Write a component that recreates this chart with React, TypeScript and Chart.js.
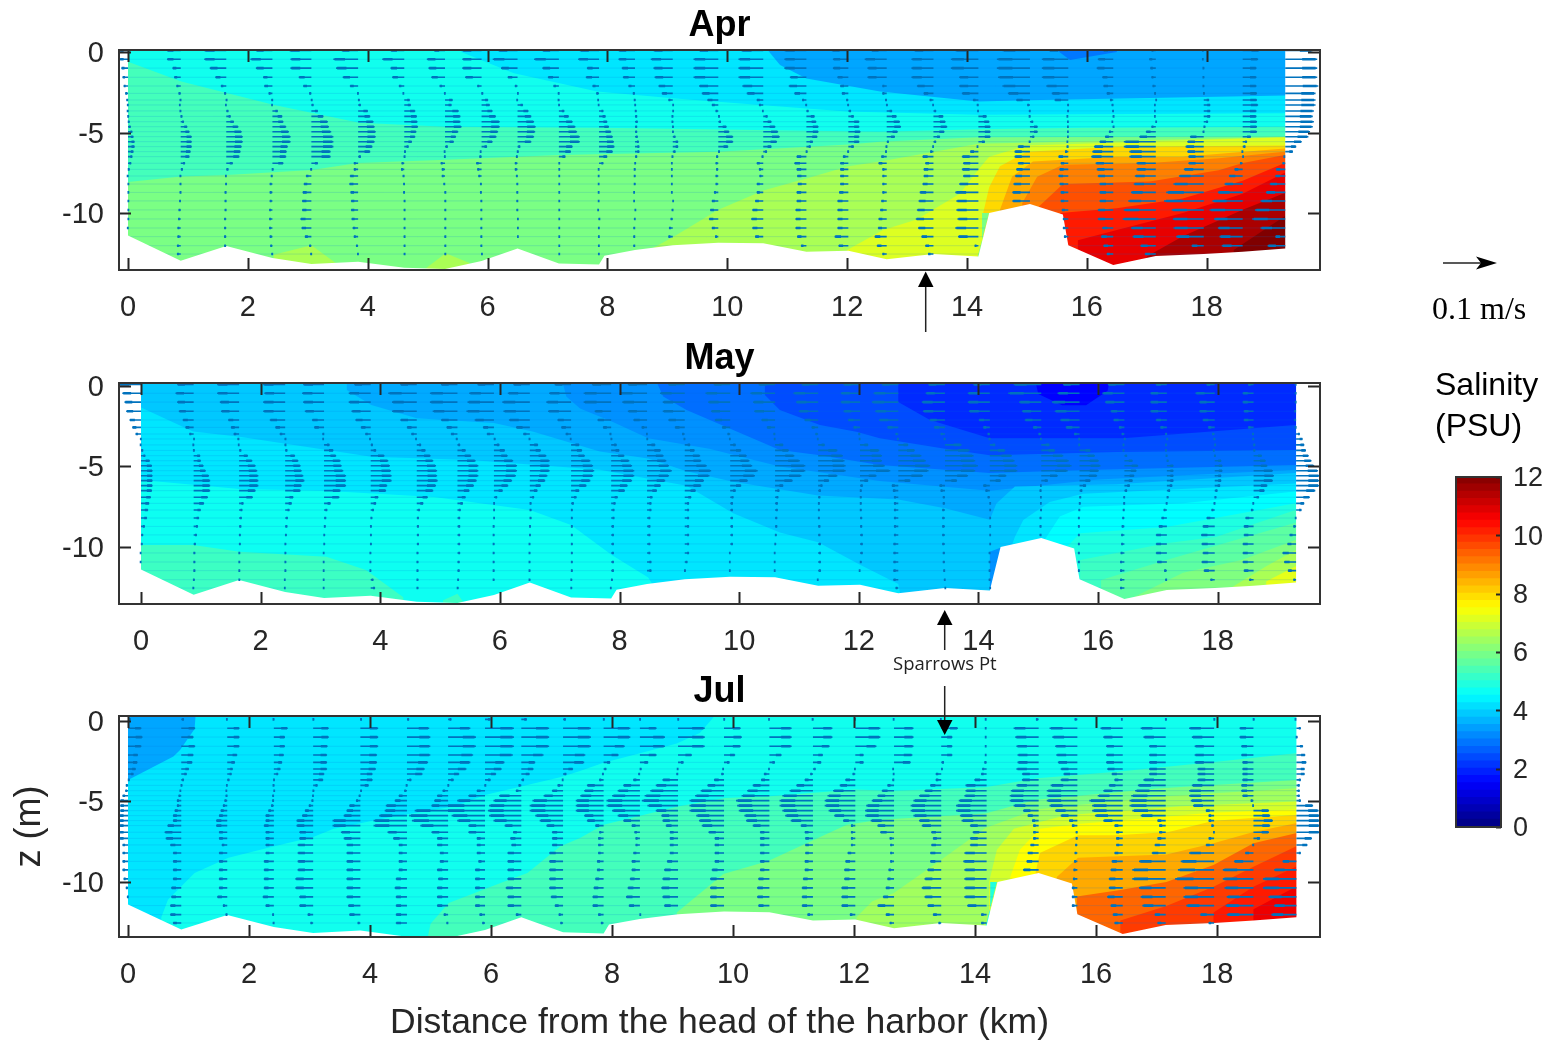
import React, { useEffect, useRef } from "react";
import { Chart, registerables } from "chart.js";

Chart.register(...registerables);

const FONT = "'Liberation Sans', Arial, sans-serif";
const INK = "#262626";
const ARROW = "#0072BD";
const ARROW_KM_PER_UNIT = 0.0092;

const stationKm = [0, 0.88, 1.64, 2.41, 3.06, 3.84, 4.61, 5.29, 5.9, 6.5, 7.19, 7.86, 8.46, 9.09, 9.85, 10.6, 11.32, 12.02, 12.66, 13.44, 14.19, 15.05, 15.69, 16.44, 17.15, 17.95, 18.6, 19.31];
const stationBottom = [-11.4, -12.96, -12.05, -12.8, -13.17, -13.02, -13.4, -13.48, -12.98, -12.2, -13.13, -13.2, -12.3, -12, -11.84, -11.88, -12.4, -12.34, -12.87, -12.55, -12.7, -9.44, -12, -13.23, -12.67, -12.55, -12.4, -12.2];
const depthLevels = [0.1, -0.45, -1, -1.57, -2.11, -2.57, -2.98, -3.29, -3.66, -4, -4.33, -4.64, -4.95, -5.26, -5.57, -5.88, -6.19, -6.5, -6.91, -7.29, -7.7, -8.2, -8.72, -9.25, -9.81, -10.37, -10.93, -11.47, -12.03, -12.55];

const bathymetryKm = [0, 0.88, 1.64, 2.41, 3.06, 3.84, 4.61, 5.29, 5.9, 6.5, 7.19, 7.86, 7.95, 8.46, 9.09, 9.85, 10.6, 11.32, 12.02, 12.66, 13.44, 14.19, 14.37, 15.05, 15.6, 15.69, 16.44, 17.15, 17.95, 18.6, 19.31];
const bathymetryZ = [-11.4, -12.96, -12.05, -12.8, -13.17, -13.02, -13.4, -13.48, -12.98, -12.2, -13.13, -13.2, -12.65, -12.3, -12, -11.84, -11.88, -12.4, -12.34, -12.87, -12.55, -12.7, -10, -9.44, -10.1, -12, -13.23, -12.67, -12.55, -12.4, -12.2];

const xTickValues = [0, 2, 4, 6, 8, 10, 12, 14, 16, 18];
const yTickValues = [0, -5, -10];
const colorbarTicks = [0, 2, 4, 6, 8, 10, 12];

// Along-channel velocity, mm/s, one row per station, one entry per depth level.
const aprU = [
  [-15,-15,-12,-10,-8,-5,-3,-2,1,2,3,5,8,10,12,12,10,8,6,3,1,-1,-1,-1,-1,-1,-2,-2],
  [-25,-25,-15,-12,-8,-4,-2,0,1,3,6,12,16,20,20,20,18,16,8,4,1,-2,-2,-3,-4,-5,-6,-6,-7,-7],
  [-40,-40,-30,-20,-10,-4,-1,1,4,8,14,22,28,30,30,28,26,24,12,4,1,-2,-3,-3,-3,-4,-4,-4,-4],
  [-30,-40,-30,-17,-15,-7,-2,1,10,18,20,25,30,33,33,28,26,25,20,2,-3,-5,-5,-5,-6,-6,-6,-5,-4,-2],
  [-40,-38,-38,-23,-15,-4,-1,4,12,22,30,32,36,40,40,40,35,35,12,-2,-10,-14,-16,-17,-17,-20,-18,-12,-4,-2],
  [-30,-45,-40,-28,-15,-2,3,5,18,22,28,30,32,32,30,26,22,5,-8,-8,-15,-16,-14,-13,-13,-12,-10,-8,-4,-2],
  [-25,-40,-25,-22,-10,0,10,12,20,23,24,25,22,20,14,8,3,-1,-5,-6,-3,-2,-2,-1,-1,-1,-1,-1,-1,-1],
  [-20,-33,-30,-25,-10,-2,14,12,25,28,28,30,24,20,16,5,1,-2,-8,-6,-6,-3,-1,-1,-1,-1,-1,-1,-1,-1],
  [-35,-35,-35,-30,-8,3,12,15,20,26,33,33,30,27,20,10,0,-4,-10,-8,-6,-3,-3,-2,-2,-2,-2,-2,-2,-1],
  [-35,-45,-30,-18,-5,-1,1,10,20,25,30,33,32,30,25,5,2,-3,-5,-5,-3,-2,-2,-2,-2,-1,-1,-1],
  [-30,-45,-30,-20,-10,-2,1,2,10,18,25,30,33,38,38,25,22,12,-1,-1,-1,-1,-1,-1,-1,-1,-1,-1,-1,-1],
  [-35,-38,-22,-24,-12,-5,0,1,8,12,15,18,22,25,27,28,25,15,8,1,1,1,1,1,0,-1,-2,-2,-2,-2],
  [-30,-30,-24,-22,-12,-4,1,2,3,4,5,4,4,5,7,8,8,4,2,1,1,1,0,0,-1,-2,-3,-3,-3],
  [-35,-40,-35,-33,-26,-20,-8,-1,-1,1,1,2,2,5,10,10,5,1,0,0,0,0,0,-1,-2,-4,-7,-8,-2],
  [-35,-45,-45,-45,-35,-30,-20,-12,-5,3,5,15,20,27,27,18,3,-4,-5,-4,-5,-5,-8,-12,-15,-17,-12,-6],
  [-40,-45,-45,-45,-38,-30,-12,-8,1,8,15,22,27,30,25,15,7,-3,-12,-8,-7,-12,-12,-15,-20,-22,-20,-15,-6],
  [-40,-40,-40,-30,-32,-22,-8,-2,4,15,18,22,22,20,12,8,2,-18,-22,-18,-17,-16,-18,-18,-20,-20,-20,-17,-10],
  [-30,-28,-28,-20,-15,-12,-4,-2,5,10,20,20,22,20,20,10,-2,-10,-15,-15,-15,-15,-17,-20,-20,-20,-20,-25,-18],
  [-28,-40,-35,-35,-8,-8,-3,2,10,18,24,26,20,15,4,-2,-3,-10,-15,-8,-8,-8,-8,-10,-12,-15,-16,-22,-18,-8],
  [-35,-40,-40,-40,-30,-18,-7,1,5,18,22,25,20,12,5,1,-6,-20,-15,-18,-18,-20,-25,-27,-30,-32,-28,-22,-15,-10],
  [-42,-50,-50,-35,-35,-30,-10,-3,1,15,20,22,22,22,12,0,-15,-30,-28,-30,-28,-35,-42,-40,-40,-38,-42,-37,-7],
  [-50,-60,-60,-58,-50,-40,-25,-5,-2,1,6,14,14,8,1,-22,-28,-28,-22,-25,-27,-30,-32,-32],
  [-35,-48,-48,-48,-40,-30,-25,-2,-2,0,1,1,1,1,0,-3,-6,-18,-14,-16,-18,-16,-14,-14,-12,-10,-10,-8],
  [-18,-28,-30,-20,-18,-12,-6,-3,-2,-1,0,-1,-8,-15,-25,-35,-38,-40,-32,-30,-28,-25,-25,-25,-28,-28,-20,-22,-18,-12],
  [-8,-12,-10,-8,-6,-3,-1,0,0,0,-1,-8,-18,-30,-58,-58,-48,-48,-35,-35,-38,-40,-45,-50,-58,-60,-45,-42,-28,-20],
  [0,0,1,1,1,2,10,12,12,12,8,3,-2,-25,-30,-33,-30,-28,-28,-36,-45,-55,-68,-72,-58,-56,-55,-50,-22],
  [30,28,25,25,25,26,26,28,25,25,26,26,26,15,8,5,1,-1,-5,-15,-25,-33,-45,-55,-60,-52,-45,-42,-38,-15],
  [50,58,58,58,60,55,55,55,52,50,52,50,45,42,30,20,14,0,-5,-17,-18,-28,-35,-45,-55,-60,-45,-18,-32,-5],
];

const mayU = [
  [-40,-34,-30,-27,-21,-16,-10,-2,1,4,8,16,20,21,21,21,21,20,18,15,13,11,7,4,3,1,1,1],
  [-30,-33,-30,-27,-20,-15,-8,-1,1,2,12,13,18,22,28,30,30,30,26,19,13,10,8,6,4,3,3,3,2,1],
  [-40,-40,-35,-33,-20,-15,-10,-3,1,4,16,24,30,33,35,35,35,30,25,8,6,5,4,3,3,2,2,2,2,1],
  [-40,-38,-40,-40,-28,-18,-10,-1,-1,4,18,24,28,30,33,35,30,28,15,12,8,5,4,3,2,2,2,2,1,1],
  [-38,-40,-38,-35,-22,-18,-3,0,10,17,22,30,32,35,40,40,40,30,28,12,6,4,3,2,2,1,1,1,1,1],
  [-30,-40,-40,-35,-28,-18,-10,-3,4,10,25,32,35,37,38,38,30,28,14,10,6,3,2,2,2,1,1,1,5,8],
  [-30,-52,-45,-45,-30,-18,-10,-3,8,16,25,30,35,37,37,38,35,30,20,12,6,4,4,4,4,3,3,3,3,3],
  [-30,-50,-50,-45,-30,-20,-12,-3,5,15,25,33,38,38,38,35,30,22,15,10,6,5,5,5,5,5,4,4,3,2],
  [-30,-45,-48,-50,-35,-20,-13,3,10,20,25,35,42,42,40,33,26,16,6,2,2,2,1,1,1,1,1,1,1],
  [-30,-40,-50,-48,-38,-25,-12,1,15,20,30,36,36,36,32,28,20,14,8,3,3,3,2,2,1,1,1,1,1],
  [-30,-40,-45,-42,-25,-18,-10,1,15,20,25,35,40,42,40,35,28,15,10,5,3,3,3,3,3,3,3,3,2,2],
  [-35,-50,-50,-30,-25,-15,-3,2,10,15,24,33,38,42,42,38,30,25,12,8,6,6,5,5,5,5,5,5,3,1],
  [-35,-50,-45,-35,-25,-10,-2,2,15,25,30,35,40,45,40,33,25,18,10,8,8,6,6,6,6,6,8,8],
  [-30,-45,-40,-40,-30,-18,-5,1,10,18,28,30,40,48,45,35,30,20,12,8,8,8,8,8,8,8,5,2],
  [-30,-45,-40,-35,-28,-15,-5,1,10,20,30,35,40,50,45,32,20,10,6,5,5,5,5,5,5,1,1,1],
  [-30,-45,-40,-38,-25,-15,-3,1,15,25,35,45,55,55,48,32,15,8,6,5,5,4,4,3,2,1,1,1],
  [-30,-45,-40,-35,-25,-12,-5,1,12,35,45,48,50,50,35,20,8,5,4,3,3,3,4,4,5,5,5,5,1],
  [-30,-35,-35,-30,-22,-12,-3,1,15,35,40,40,45,55,30,15,5,3,3,3,3,4,4,5,5,5,3,1],
  [-30,-45,-48,-42,-35,-20,-5,1,18,30,42,50,58,55,45,22,-12,-10,-8,-8,-8,-8,-8,-8,-9,-9,-9,-9,-9,-5],
  [-30,-35,-42,-40,-28,-20,-8,1,30,45,52,55,60,55,42,22,-10,-8,-4,-4,-5,-5,-5,-5,-5,-4,-4,-3,-2,-1],
  [-30,-40,-40,-38,-20,-12,-4,1,10,28,40,45,50,50,30,20,-12,-8,-4,-1,-1,-1,-1,-1,-1,-2,-2,-2,-2,-1],
  [-50,-60,-40,-35,-30,-15,-5,1,15,25,40,50,55,48,30,12,1,-3,1,1,-2,-3,-3,-3],
  [-30,-40,-50,-45,-35,-25,-10,1,1,20,28,35,38,35,32,20,12,5,3,2,-2,-3,-3,-3,-3,-3,-3,-3],
  [-30,-40,-35,-25,-20,-10,-5,-1,0,0,5,15,25,22,18,15,10,5,-2,-2,-3,-4,-5,-6,-6,-7,-8,-8,-8,-8],
  [-20,-30,-30,-30,-20,-12,-3,-1,0,0,1,3,12,12,12,12,10,6,3,-2,-6,-10,-15,-20,-20,-20,-18,-5,-3],
  [-15,-35,-28,-28,-22,-12,-5,1,-1,0,2,12,14,14,12,12,10,5,3,-2,-6,-15,-22,-25,-24,-22,-24,-20,-8],
  [-10,-20,-20,-18,-18,-10,-3,1,3,3,15,22,25,35,37,35,25,20,10,1,-5,-15,-18,-18,-20,-20,-20,-18,-8],
  [1,1,1,0,0,1,7,12,15,18,23,28,33,40,43,42,42,35,25,15,10,1,-5,-12,-16,-25,-22,-15,-5],
];

const julU = [
  [5,24,26,24,18,17,14,10,3,-4,-5,-10,-14,-14,-14,-15,-15,-15,-15,-15,-10,-10,-10,-10,-8,-4,-2,-1],
  [5,25,22,25,22,20,14,10,5,2,0,-5,-8,-8,-12,-15,-15,-25,-30,-28,-20,-15,-15,-15,-15,-18,-18,-20,-20,-15],
  [1,22,22,22,18,14,10,8,4,1,0,-3,-5,-8,-12,-15,-20,-20,-15,-15,-10,-15,-15,-15,-15,-15,-18,-8,-3],
  [1,25,20,20,18,15,12,8,2,1,-1,-3,-3,-5,-10,-15,-15,-18,-15,-15,-15,-15,-18,-18,-18,-18,-20,-15,-3,-2],
  [2,28,28,26,25,25,25,20,18,8,2,-2,-3,-8,-15,-20,-30,-30,-25,-25,-28,-28,-28,-28,-32,-32,-25,-25,-10,-5],
  [3,32,32,32,30,30,28,22,22,15,3,-3,-8,-20,-25,-30,-50,-50,-35,-30,-25,-25,-25,-25,-25,-25,-25,-22,-20,-5],
  [4,40,42,42,42,38,32,28,8,1,-5,-15,-22,-38,-40,-50,-60,-60,-35,-25,-15,-15,-15,-15,-20,-22,-20,-20,-20,-20],
  [6,40,50,50,45,40,33,20,10,2,-10,-20,-25,-30,-60,-70,-65,-50,-30,-20,-20,-15,-15,-20,-18,-20,-20,-20,-8,-3],
  [10,52,52,52,50,35,30,20,10,-1,-15,-30,-50,-70,-70,-60,-50,-30,-30,-15,-15,-15,-12,-18,-18,-18,-18,-18,-10,-5],
  [10,50,50,50,40,25,22,15,5,-5,-10,-40,-50,-58,-60,-58,-50,-30,-15,-20,-18,-25,-25,-25,-25,-28,-25,-25,-10,-5],
  [5,50,50,50,40,38,18,6,1,-10,-20,-35,-55,-60,-60,-50,-42,-30,-20,-20,-20,-25,-25,-25,-25,-25,-22,-15,-8,-5],
  [2,48,48,38,27,12,5,-3,-8,-30,-35,-42,-50,-50,-50,-35,-30,-15,-8,-10,-10,-10,-12,-12,-15,-18,-20,-20,-10,-5],
  [2,30,45,45,30,15,3,-3,-12,-30,-40,-50,-60,-60,-50,-40,-30,-15,-10,-8,-8,-12,-15,-15,-18,-22,-25,-20,-1,-1],
  [2,48,48,48,25,10,1,-3,-28,-40,-50,-60,-65,-55,-40,-30,-28,-22,-15,-15,-15,-15,-20,-25,-28,-30,-28,-25,-5,-5],
  [2,30,32,30,20,10,0,-5,-18,-30,-42,-52,-62,-62,-62,-50,-45,-40,-28,-17,-17,-17,-17,-22,-25,-25,-25,-25,-5,-5],
  [1,40,40,40,22,10,1,-10,-15,-30,-40,-50,-60,-58,-55,-45,-42,-30,-17,-17,-17,-17,-17,-17,-20,-22,-22,-20,-12,-10],
  [1,35,35,30,18,15,5,-5,-15,-30,-42,-55,-60,-60,-55,-50,-40,-22,-15,-14,-14,-14,-15,-15,-18,-20,-20,-20,-10,-5],
  [1,45,45,38,15,15,1,-5,-18,-28,-40,-50,-55,-55,-48,-38,-22,-8,-8,-8,-8,-14,-18,-20,-20,-25,-25,-25,-10],
  [1,35,35,35,33,30,0,1,-3,-12,-22,-30,-40,-50,-52,-52,-42,-30,-25,-8,-7,-7,-7,-10,-12,-15,-20,-30,-15,-8],
  [1,30,20,20,20,5,3,-10,-10,-20,-30,-40,-50,-55,-55,-50,-40,-35,-18,-15,-18,-20,-20,-25,-30,-35,-30,-25,-15,-5],
  [0,0,0,0,0,-4,-8,-10,-22,-38,-38,-40,-50,-55,-55,-48,-45,-30,-25,-30,-30,-40,-42,-40,-40,-40,-40,-35,-10,-10],
  [-5,-45,-42,-40,-38,-38,-40,-30,-30,-40,-50,-52,-52,-45,-28,-20,-12,-10,-10,-10,-15,-20,-22,-28,-28],
  [-5,-50,-45,-40,-38,-35,-30,-25,-30,-48,-55,-55,-55,-50,-40,-30,-15,-10,-3,-3,-4,-5,-6,-7,-8,-10,-10,-10],
  [0,-40,-35,-30,-30,-30,-28,-20,-15,-25,-35,-45,-60,-55,-55,-50,-35,-15,-12,-12,-12,-15,-20,-22,-25,-25,-28,-22,-18,-15],
  [2,-45,-40,-30,-30,-30,-30,-30,-40,-50,-55,-62,-65,-65,-60,-45,-15,-12,-12,-15,-20,-25,-48,-60,-60,-48,-45,-42,-20,-15],
  [2,-45,-40,-35,-35,-35,-30,-30,-30,-40,-45,-45,-42,-38,-15,-10,-10,-5,-2,-10,-15,-45,-60,-65,-70,-55,-55,-50,-25,-10],
  [2,-25,-25,-22,-22,-20,-20,-20,-20,-22,-22,-20,-5,1,28,30,35,30,28,12,-2,-15,-35,-55,-55,-52,-48,-50,-48,-20],
  [0,8,2,12,16,18,15,15,8,6,6,6,8,30,40,42,42,42,42,28,20,8,-25,-40,-60,-60,-50,-40,-45,-10],
];

// Salinity contour bands, painted in order; each outline is closed downward.
const aprSalinity = [2.9, 3.45, 4.2, 4.7, 5.3, 5.95, 6.5, 6.5, 6.5, 7.1, 7.95, 8.5, 9, 9.56, 10.2, 10.77, 11.5, 12, 5.95];
const aprOutlines = [
  [[-1,.5],[21,.5]],
  [[-1,.5],[15.54,.5],[15.54,0],[15.72,-.5],[16.5,0],[16.5,.5],[21,.5]],
  [[-1,.5],[10.68,.5],[10.68,.1],[10.88,-.8],[11.32,-1.64],[12.55,-2.46],[14.19,-3.08],[15,-3],[19.3,-2.7],[21,-2.6]],
  [[-1,.5],[5.56,.5],[5.56,0],[6.44,-1.32],[7.83,-2.46],[9.09,-2.88],[10.6,-3.3],[12,-3.7],[14.19,-3.9],[19.3,-3.8],[21,-3.8]],
  [[-1,.5],[0,-.6],[.89,-1.84],[2.44,-3.29],[3.86,-4.39],[5.3,-4.64],[7.88,-4.7],[12.55,-4.95],[14.19,-4.8],[16,-4.7],[19.3,-4.64],[21,-4.6]],
  [[-1,-8.3],[0,-8.08],[.89,-7.74],[1.65,-7.64],[3.06,-7.33],[3.84,-6.9],[5.3,-6.7],[7.19,-6.4],[9.85,-6.2],[12.02,-5.75],[12.55,-5.57],[14.19,-5.3],[19.3,-5.25],[21,-5.2]],
  [[2.43,-12.6],[3.06,-12],[3.5,-13.2]],
  [[4.95,-13.5],[5.3,-12.5],[5.7,-13.1]],
  [[8.6,-12.5],[9.09,-11.5],[9.85,-9.8],[10.6,-8.6],[11.32,-7.85],[12.02,-7.1],[12.55,-6.8],[14.19,-5.7],[19.3,-5.28],[21,-5.2]],
  [[12,-12.3],[12.6,-11.05],[13.16,-10.4],[13.88,-8.8],[14.19,-7.3],[14.37,-6.5],[15,-5.8],[19.3,-5.3],[21,-5.3]],
  [[14.27,-10],[14.37,-8.4],[14.55,-7.1],[15,-6.2],[16.5,-5.88],[19.3,-5.8],[21,-5.8]],
  [[14.55,-9.8],[14.75,-7.75],[15.1,-6.8],[16.5,-6.5],[17.6,-6.5],[19.3,-6],[21,-5.9]],
  [[14.92,-9.4],[15.17,-7.75],[15.6,-7],[17.05,-6.9],[18.2,-6.6],[19.3,-6.2],[21,-6]],
  [[15.2,-9.6],[15.6,-8.2],[17.05,-8.05],[18.2,-7.35],[18.6,-6.9],[19.3,-6.4],[21,-6.2]],
  [[15.55,-10],[16.5,-9.7],[17.6,-9.1],[18.6,-8],[19.3,-6.9],[21,-6.5]],
  [[15.85,-11.7],[16.5,-11.05],[17.6,-10],[18.6,-8.8],[19.3,-7.5],[21,-7]],
  [[17,-12.7],[17.6,-11.45],[18.6,-9.8],[19.3,-8.75],[21,-8]],
  [[18.45,-12.3],[19.3,-10.2],[21,-9]],
  [[14.17,-12.8],[14.37,-10],[14.25,-10]],
];

const maySalinity = [1.5, 2, 2.4, 2.8, 3.2, 3.5, 3.85, 4.2, 4.65, 5.2, 5.2, 3.2, 4.2, 4.5, 4.85, 5.2, 5.6, 6, 6.5, 7.2];
const mayOutlines = [
  [[-1,.5],[21,.5]],
  [[-1,.5],[14.94,.5],[15,-.5],[15.4,-1.2],[15.8,-1.2],[16.16,-.3],[16.2,.5],[21,.5]],
  [[-1,.5],[12.66,.5],[12.66,-1],[13.19,-2.11],[14.19,-3.25],[16.41,-3.25],[19.3,-2.42],[21,-2.2]],
  [[-1,.5],[10.43,.5],[10.43,-.56],[10.68,-1.49],[11.35,-2.42],[11.96,-2.84],[12.35,-3.25],[13.44,-3.9],[14.19,-4.3],[16.3,-4.1],[19.3,-3.98],[21,-3.9]],
  [[-1,.5],[8.59,.5],[8.73,-.66],[9.12,-1.49],[9.9,-2.73],[10.68,-3.97],[11.32,-4.28],[12.35,-4.9],[14.19,-5.4],[16,-5.2],[19.3,-4.9],[21,-4.8]],
  [[-1,.5],[7.03,.5],[7.11,-.66],[7.34,-1.4],[7.87,-2.2],[8.48,-3.25],[9.5,-3.9],[10.68,-5],[12.35,-5.9],[14.19,-6.5],[16,-5.8],[19.3,-5.2],[21,-5]],
  [[-1,.5],[3.44,.5],[3.44,-.25],[3.85,-1.18],[4.61,-2],[5.9,-2.3],[6.56,-2.84],[7.67,-4.07],[8.48,-4.5],[9.12,-5.3],[9.9,-5.95],[11.32,-6.8],[12.66,-7.05],[13.44,-7.6],[14.19,-8.3],[14.3,-7.3],[14.61,-6.25],[16.31,-6.1],[19.3,-5.4],[21,-5.2]],
  [[-1,-1.2],[0,-1.33],[.87,-2.83],[1.65,-3.15],[3.85,-4.4],[5.5,-4.6],[7.67,-5.2],[9.12,-6.2],[9.9,-7.9],[10.68,-9.1],[11.32,-9.7],[12.02,-11.1],[12.66,-12.3],[12.8,-15]],
  [[-1,-5.8],[0,-5.84],[1.65,-6.4],[3.07,-6.5],[4.9,-6.9],[6.5,-7.7],[7.19,-8.63],[7.87,-10.5],[8.48,-11.9],[9,-15]],
  [[-1,-9.87],[.87,-9.87],[1.65,-10.3],[3.1,-10.6],[3.76,-11.43],[4.38,-13.1],[4.5,-15]],
  [[5.05,-13.3],[5.29,-12.9],[5.5,-14]],
  [[14.19,-10.3],[14.4,-10],[14.2,-12.7]],
  [[14.55,-10],[14.61,-9.36],[14.75,-8.32],[15.19,-7.2],[15.75,-6.7],[19.3,-6.05],[21,-5.9]],
  [[15.1,-9.6],[15.36,-8.1],[15.75,-7.5],[17.42,-7.29],[19.3,-6.56],[21,-6.2]],
  [[15.5,-9.9],[15.7,-9.15],[17.14,-8.75],[19.3,-7.29],[21,-6.5]],
  [[15.7,-10.8],[17.14,-9.77],[17.98,-9.36],[19.3,-7.7],[21,-6.8]],
  [[16.05,-12.05],[17.14,-10.8],[19.3,-8.5],[21,-7.5]],
  [[16.6,-13.1],[17.42,-11.6],[18.4,-10.8],[19.3,-9.57],[21,-8]],
  [[18.25,-12.47],[18.81,-11.2],[19.3,-10.2],[21,-9]],
  [[18.81,-12.15],[19.3,-11.2],[21,-10]],
];

const julSalinity = [3.45, 4.2, 4.7, 5.3, 5.95, 6.4, 7, 7.5, 8, 8.5, 9.3, 9.8, 10.2, 10.7, 4.9];
const julOutlines = [
  [[-1,.5],[21,.5]],
  [[-1,-4],[0,-3.66],[.75,-2.2],[.86,-1.8],[1.1,-.5],[1.12,.5],[21,.5]],
  [[.55,-13],[.55,-12.2],[.66,-11.1],[1.1,-9.45],[1.66,-8.5],[2.4,-7.8],[3.06,-7.2],[3.4,-6.7],[4.3,-6],[5.4,-5.3],[5.9,-4.6],[7.14,-3.5],[7.47,-3.1],[7.86,-2.6],[8.46,-2],[9.07,-1.4],[9.45,-.75],[9.67,.2],[9.7,.5],[21,.5]],
  [[4.95,-13.5],[5,-12.6],[5.3,-11.3],[6.2,-10],[6.6,-9.45],[7.14,-7.8],[7.47,-7.27],[7.86,-6.44],[9.1,-5.3],[9.87,-4.78],[10.61,-4.68],[12.01,-4.26],[12.65,-4.33],[14.17,-4.12],[15.02,-3.56],[16.34,-3.15],[17.99,-2.53],[19.3,-2],[21,-1.7]],
  [[9.07,-11.9],[9.84,-9.5],[10.58,-8.7],[11.33,-7.4],[11.88,-6.44],[12.43,-6.13],[14.17,-5.75],[15,-4.9],[17,-4.2],[19.3,-3.66],[21,-3.2]],
  [[12.04,-12.2],[12.3,-11.2],[12.65,-10.7],[13.3,-9],[14.17,-6.65],[15,-5.5],[17,-4.7],[19.3,-4.18],[21,-3.8]],
  [[14.23,-10],[14.36,-8],[14.64,-6.7],[15.5,-5.85],[17.4,-5.3],[19.3,-5],[21,-4.8]],
  [[14.58,-9.7],[14.74,-8],[15.07,-6.7],[15.7,-6.4],[17.9,-5.7],[19.3,-5.5],[21,-5.3]],
  [[15,-9.4],[15.07,-8.2],[15.7,-7.1],[16.34,-7.1],[17.2,-6.9],[17.94,-6.2],[19.3,-5.84],[21,-5.6]],
  [[15.35,-9.7],[15.7,-8.5],[17.16,-8.3],[17.94,-7.6],[18.6,-6.9],[19.3,-6.36],[21,-6]],
  [[15.68,-10.9],[16.4,-10.5],[17.16,-10],[17.94,-8.95],[18.6,-7.6],[19.3,-6.98],[21,-6.4]],
  [[16.4,-12.4],[17.16,-11.5],[17.94,-10.3],[18.6,-9.05],[19.3,-7.8],[21,-7]],
  [[17.94,-11.9],[18.6,-10.3],[19.3,-9.05],[21,-8]],
  [[18.6,-11.7],[19.3,-10.3],[21,-9]],
  [[14.17,-12.8],[14.36,-10],[14.25,-10]],
];

const panels = [
  { title: "Apr", top: 0, height: 335, axisH: 65, xMin: -0.15, xMax: 19.89, yMin: -13.54, yMax: 0.124, salinity: aprSalinity, outlines: aprOutlines, u: aprU, last: false },
  { title: "May", top: 333, height: 336, axisH: 65, xMin: -0.368, xMax: 19.71, yMin: -13.54, yMax: 0.186, salinity: maySalinity, outlines: mayOutlines, u: mayU, last: false },
  { title: "Jul", top: 666, height: 380, axisH: 109, xMin: -0.149, xMax: 19.7, yMin: -13.42, yMax: 0.31, salinity: julSalinity, outlines: julOutlines, u: julU, last: true },
];

function jet(s: number) {
  const t = s / 12;
  const c = (v: number) => Math.round(255 * Math.max(0, Math.min(1, v)));
  const r = c(Math.min(4 * t - 1.5, -4 * t + 4.5));
  const g = c(Math.min(4 * t - 0.5, -4 * t + 3.5));
  const b = c(Math.min(4 * t + 0.5, -4 * t + 2.5));
  return `rgb(${r},${g},${b})`;
}

const framePlugin = {
  id: "frame",
  afterDraw(chart: any, _args: any, opts: any) {
    const { ctx, chartArea: a, scales } = chart;
    ctx.save();
    ctx.strokeStyle = INK;
    ctx.lineWidth = opts.tickWidth;
    ctx.beginPath();
    const len = opts.len;
    if (scales.x && opts.xTicks) {
      for (const t of scales.x.ticks) {
        const p = Math.round(scales.x.getPixelForValue(t.value)) + 0.5;
        ctx.moveTo(p, a.bottom);
        ctx.lineTo(p, a.bottom - len);
        ctx.moveTo(p, a.top);
        ctx.lineTo(p, a.top + len);
      }
    }
    for (const t of scales.y.ticks) {
      const p = Math.round(scales.y.getPixelForValue(t.value)) + 0.5;
      if (opts.leftTicks) {
        ctx.moveTo(a.left, p);
        ctx.lineTo(a.left + len, p);
      }
      ctx.moveTo(a.right, p);
      ctx.lineTo(a.right - len, p);
    }
    ctx.stroke();
    ctx.lineWidth = 2;
    ctx.strokeStyle = "#333333";
    ctx.strokeRect(a.left, a.top, a.right - a.left, a.bottom - a.top);
    ctx.restore();
  },
};

function closeOutline(pts: number[][]) {
  const first = pts[0];
  const last = pts[pts.length - 1];
  const all = [...pts, [last[0], -15], [first[0], -15], first];
  return all.map(([x, y]) => ({ x, y }));
}

function bottomMask() {
  const pts: { x: number; y: number }[] = [
    { x: -2, y: 2 },
    { x: bathymetryKm[0], y: 2 },
  ];
  bathymetryKm.forEach((x, i) => pts.push({ x, y: bathymetryZ[i] }));
  const end = bathymetryKm[bathymetryKm.length - 1];
  pts.push({ x: end, y: 2 }, { x: 22, y: 2 }, { x: 22, y: -16 }, { x: -2, y: -16 }, { x: -2, y: 2 });
  return pts;
}

function gridLines() {
  const pts: any[] = [];
  for (const z of depthLevels.slice(1)) {
    pts.push({ x: 0, y: z }, { x: 19.31, y: z }, { x: null, y: null });
  }
  return pts;
}

function arrowLines(u: number[][]) {
  const shafts: any[] = [];
  const heads: any[] = [];
  u.forEach((row, i) => {
    const x0 = stationKm[i];
    row.forEach((v, k) => {
      const z = depthLevels[k];
      if (z < stationBottom[i]) return;
      const tip = x0 + v * ARROW_KM_PER_UNIT;
      shafts.push({ x: x0, y: z }, { x: tip, y: z }, { x: null, y: null });
      const dir = v < 0 ? -1 : 1;
      const headLen = Math.max(Math.abs(v) * ARROW_KM_PER_UNIT * 0.42, 0.03);
      const headEnd = tip - dir * Math.abs(v) * ARROW_KM_PER_UNIT * 0.05;
      heads.push({ x: headEnd, y: z }, { x: headEnd - dir * headLen, y: z }, { x: null, y: null });
    });
  });
  return { shafts, heads };
}

function buildPanel(canvas: HTMLCanvasElement, p: any) {
  const datasets: any[] = [];
  const { shafts, heads } = arrowLines(p.u);
  const line = { showLine: true, pointRadius: 0, pointHoverRadius: 0, spanGaps: false, tension: 0 };
  datasets.push({ ...line, label: "Velocity heads", data: heads, borderColor: ARROW, borderWidth: 2.6, fill: false, order: 0 });
  datasets.push({ ...line, label: "Velocity", data: shafts, borderColor: ARROW, borderWidth: 1.6, fill: false, order: 1 });
  datasets.push({ ...line, label: "Bottom", data: bottomMask(), borderWidth: 0, borderColor: "rgba(0,0,0,0)", backgroundColor: "#ffffff", fill: "shape", order: 2 });
  datasets.push({ ...line, label: "Levels", data: gridLines(), borderColor: "rgba(0,110,220,0.17)", borderWidth: 1, fill: false, order: 3 });
  p.outlines.forEach((o: number[][], i: number) => {
    datasets.push({
      ...line,
      label: `Salinity ${p.salinity[i]}`,
      data: closeOutline(o),
      borderWidth: 0,
      borderColor: "rgba(0,0,0,0)",
      backgroundColor: jet(p.salinity[i]),
      fill: "shape",
      order: 100 - i,
    });
  });
  return new Chart(canvas, {
    type: "scatter",
    data: { datasets },
    plugins: [framePlugin],
    options: {
      animation: false,
      responsive: false,
      events: [],
      layout: { padding: { left: 0, right: 224, top: 0, bottom: 0 } },
      plugins: {
        legend: { display: false },
        tooltip: { enabled: false },
        title: {
          display: true,
          text: p.title,
          fullSize: false,
          color: "#000000",
          font: { family: FONT, size: 36, weight: "bold" },
          padding: { top: 4.4, bottom: 2.4 },
        },
        frame: { len: 12, tickWidth: 2, xTicks: true, leftTicks: true },
      },
      scales: {
        x: {
          type: "linear",
          min: p.xMin,
          max: p.xMax,
          afterFit: (s: any) => { s.height = p.axisH; },
          afterBuildTicks: (s: any) => { s.ticks = xTickValues.map((value) => ({ value })); },
          grid: { display: false, drawTicks: false },
          border: { display: false },
          ticks: { color: INK, font: { family: FONT, size: 29 }, padding: 21, maxRotation: 0, autoSkip: false, includeBounds: false },
          title: p.last
            ? { display: true, text: "Distance from the head of the harbor (km)", color: INK, font: { family: FONT, size: 35.5 }, padding: { top: 0, bottom: 1.7 } }
            : { display: false },
        },
        y: {
          type: "linear",
          min: p.yMin,
          max: p.yMax,
          afterFit: (s: any) => { s.width = 119; },
          afterBuildTicks: (s: any) => { s.ticks = yTickValues.map((value) => ({ value })); },
          grid: { display: false, drawTicks: false },
          border: { display: false },
          ticks: { color: INK, font: { family: FONT, size: 29 }, padding: 15, autoSkip: false, labelOffset: 2 },
          title: p.last
            ? { display: true, text: "z (m)", color: INK, font: { family: FONT, size: 36 }, padding: { top: 8, bottom: 0 } }
            : { display: false },
        },
      },
    } as any,
  });
}

function buildColorbar(canvas: HTMLCanvasElement) {
  const bands = 48;
  const datasets: any[] = [];
  for (let i = 0; i < bands; i++) {
    const lo = (i * 12) / bands;
    const hi = ((i + 1) * 12) / bands;
    datasets.push({
      label: `${lo}`,
      data: [[lo, hi + 0.02]],
      backgroundColor: jet((lo + hi) / 2),
      borderWidth: 0,
      barPercentage: 1,
      categoryPercentage: 1,
      grouped: false,
    });
  }
  return new Chart(canvas, {
    type: "bar",
    data: { labels: ["Salinity"], datasets },
    plugins: [framePlugin],
    options: {
      animation: false,
      responsive: false,
      events: [],
      layout: { padding: { left: 16, right: 0, top: 17, bottom: 18 } },
      plugins: {
        legend: { display: false },
        tooltip: { enabled: false },
        frame: { len: 5, tickWidth: 2, xTicks: false, leftTicks: false },
      },
      scales: {
        x: { display: false, grid: { display: false } },
        y: {
          position: "right",
          min: 0,
          max: 12,
          afterFit: (s: any) => { s.width = 43; s.paddingTop = 0; s.paddingBottom = 0; },
          afterBuildTicks: (s: any) => { s.ticks = colorbarTicks.map((value) => ({ value })); },
          grid: { display: false, drawTicks: false },
          border: { display: false },
          ticks: { color: INK, font: { family: FONT, size: 27 }, padding: 12, autoSkip: false, labelOffset: 2 },
        },
      },
    } as any,
  });
}

const textBase: React.CSSProperties = { position: "absolute", whiteSpace: "nowrap", lineHeight: 1, color: "#000" };

export default function App() {
  const refs = [useRef<HTMLCanvasElement>(null), useRef<HTMLCanvasElement>(null), useRef<HTMLCanvasElement>(null)];
  const barRef = useRef<HTMLCanvasElement>(null);
  useEffect(() => {
    const charts = panels.map((p, i) => buildPanel(refs[i].current as HTMLCanvasElement, p));
    charts.push(buildColorbar(barRef.current as HTMLCanvasElement));
    return () => charts.forEach((c) => c.destroy());
  }, []);
  return (
    <div style={{ position: "absolute", left: 0, top: 0, width: 1544, height: 1041, overflow: "hidden", background: "#fff" }}>
      {panels.map((p, i) => (
        <canvas key={p.title} ref={refs[i]} width={1544} height={p.height} style={{ position: "absolute", left: 0, top: p.top, width: 1544, height: p.height }} />
      ))}
      <canvas ref={barRef} width={104} height={385} style={{ position: "absolute", left: 1440, top: 460, width: 104, height: 385 }} />
      <svg width={1544} height={1041} style={{ position: "absolute", left: 0, top: 0, pointerEvents: "none" }}>
        <g stroke="#222" strokeWidth={1.5} fill="none">
          <line x1={925.7} y1={332} x2={925.7} y2={285} />
          <line x1={944.7} y1={650} x2={944.7} y2={623} />
          <line x1={944.7} y1={686} x2={944.7} y2={722} />
          <line x1={1443} y1={263} x2={1490} y2={263} />
        </g>
        <g fill="#000">
          <polygon points="925.7,271.5 918,287 933.5,287" />
          <polygon points="944.7,610 937,625 952.5,625" />
          <polygon points="944.7,735 937,720 952.5,720" />
          <polygon points="1497,263 1476,256.5 1481,263 1476,269.5" />
        </g>
      </svg>
      <div style={{ ...textBase, left: 893, top: 654, fontFamily: "'Open Sans', sans-serif", fontSize: 18.5, color: "#222" }}>Sparrows Pt</div>
      <div style={{ ...textBase, left: 1432, top: 292, fontFamily: "'Liberation Serif', serif", fontSize: 32 }}>0.1 m/s</div>
      <div style={{ ...textBase, left: 1435, top: 368, fontFamily: FONT, fontSize: 32 }}>Salinity</div>
      <div style={{ ...textBase, left: 1435, top: 409, fontFamily: FONT, fontSize: 32 }}>(PSU)</div>
    </div>
  );
}
